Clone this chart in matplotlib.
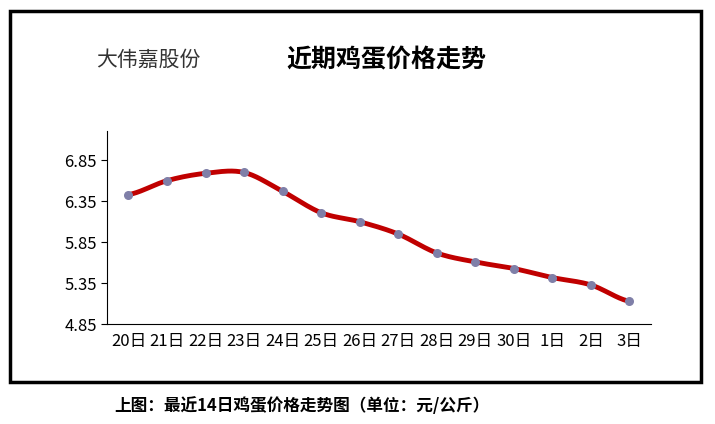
import numpy as np
import matplotlib.pyplot as plt
from matplotlib.patches import Rectangle

plt.rcParams['font.family'] = ['Noto Sans CJK SC', 'DejaVu Sans']

days = ['20日', '21日', '22日', '23日', '24日', '25日', '26日', '27日',
        '28日', '29日', '30日', '1日', '2日', '3日']
prices = [6.43, 6.60, 6.69, 6.70, 6.47, 6.21, 6.10, 5.95,
          5.72, 5.61, 5.53, 5.42, 5.33, 5.13]
yticks = [4.85, 5.35, 5.85, 6.35, 6.85]

fig = plt.figure(figsize=(7.15, 4.24), dpi=100)
fig.patches.append(Rectangle((0.014, 0.10), 0.966, 0.875, transform=fig.transFigure,
                             fill=False, edgecolor='black', linewidth=2.5))

ax = fig.add_axes([0.15, 0.235, 0.76, 0.455])
x = np.arange(len(days))

# smooth curve through the points (Catmull-Rom style)
xs, ys = [], []
p = np.array(prices)
pp = np.concatenate([[p[0]], p, [p[-1]]])
for i in range(len(p) - 1):
    t = np.linspace(0, 1, 20)
    p0, p1, p2, p3 = pp[i], pp[i + 1], pp[i + 2], pp[i + 3]
    yy = 0.5 * (2 * p1 + (-p0 + p2) * t + (2 * p0 - 5 * p1 + 4 * p2 - p3) * t ** 2
                + (-p0 + 3 * p1 - 3 * p2 + p3) * t ** 3)
    xs.extend(x[i] + t)
    ys.extend(yy)
ax.plot(xs, ys, color='#c00000', linewidth=3.5, zorder=2)
ax.scatter(x, prices, s=30, color='#7f7fa8', zorder=3)

ax.set_xlim(-0.55, len(days) - 0.45)
ax.set_ylim(4.85, 7.2)
ax.set_yticks(yticks)
ax.set_yticklabels([f'{v:.2f}' for v in yticks], fontsize=12)
ax.set_xticks(x)
ax.set_xticklabels(days, fontsize=12)
ax.tick_params(axis='x', length=0, pad=6)
ax.tick_params(axis='y', length=4, direction='out')
ax.spines['top'].set_visible(False)
ax.spines['right'].set_visible(False)

fig.text(0.135, 0.845, '大伟嘉股份', fontsize=15, color='#333333')
fig.text(0.40, 0.84, '近期鸡蛋价格走势', fontsize=18, fontweight='bold')
fig.text(0.16, 0.03, '上图：最近14日鸡蛋价格走势图（单位：元/公斤）', fontsize=12,
         fontweight='bold')

fig.savefig('out.png', dpi=100)
